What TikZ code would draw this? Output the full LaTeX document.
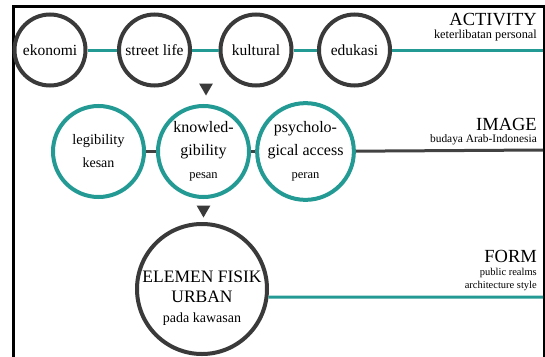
\documentclass[tikz,border=0pt]{standalone}
\usepackage{fontspec}
\setmainfont{Liberation Serif}
\usetikzlibrary{shapes.geometric}
\definecolor{tealc}{RGB}{36,154,149}
\definecolor{ringgray}{RGB}{58,58,58}
\definecolor{linegray}{RGB}{66,66,66}
\tikzset{
  actcirc/.style={circle, draw=ringgray, line width=4pt, minimum size=71pt, inner sep=0pt,
    font=\fontsize{15.5}{18}\selectfont},
  imgcirc/.style={circle, draw=tealc, line width=4pt, minimum size=91pt, inner sep=0pt,
    align=center, font=\fontsize{16}{23}\selectfont},
  formcirc/.style={circle, draw=ringgray, line width=4pt, minimum size=130pt, inner sep=0pt},
  tealline/.style={draw=tealc, line width=3pt},
  grayline/.style={draw=linegray, line width=3pt},
  downtri/.style={regular polygon, regular polygon sides=3, shape border rotate=180,
    fill=ringgray, draw=none, minimum size=16pt, inner sep=0pt},
  headtxt/.style={anchor=base east, inner sep=0pt, font=\fontsize{18.5}{20}\selectfont},
  subtxt/.style={anchor=base east, inner sep=0pt},
}
\begin{document}
\begin{tikzpicture}[x=1pt,y=-1pt]
\useasboundingbox (0,0) rectangle (545,356);
% frame
\draw[line width=3pt] (13.5,360) -- (13.5,6.5) -- (544,6.5) -- (544,360);

% ACTIVITY row
\node[actcirc] (eko) at (50,50) {ekonomi};
\node[actcirc] (str) at (154.5,50) {street life};
\node[actcirc] (kul) at (256,50) {kultural};
\node[actcirc] (edu) at (354.5,50) {edukasi};
\coordinate (actend) at (543,50);
\draw[tealline] (eko) -- (str);
\draw[tealline] (str) -- (kul);
\draw[tealline] (kul) -- (edu);
\draw[tealline] (edu) -- (actend);
\node[headtxt] (act) at (537,25) {ACTIVITY};
\node[subtxt, font=\fontsize{12.3}{13}\selectfont] (actsub) at (537,38) {keterlibatan personal};

\node[downtri] (tri1) at (206,87.5) {};

% IMAGE row
\node[imgcirc] (leg) at (98.5,151.5) {{\fontsize{14.5}{20}\selectfont legibility}\\{\fontsize{14}{20}\selectfont kesan}};
\node[imgcirc] (kno) at (203.5,151.5) {knowled-\\gibility\\{\fontsize{12.5}{23}\selectfont pesan}};
\node[imgcirc] (psy) at (305.5,151.5) {psycholo-\\gical access\\{\fontsize{12.5}{23}\selectfont peran}};
\coordinate (imgend) at (543,150);
\draw[grayline] (leg) -- (kno);
\draw[grayline] (kno) -- (psy);
\draw[grayline] (psy) -- (imgend);
\node[headtxt] (img) at (537,130) {IMAGE};
\node[subtxt, font=\fontsize{11.4}{12}\selectfont] (imgsub) at (537,142) {budaya Arab-Indonesia};

\node[downtri] (tri2) at (203.5,209.5) {};

% FORM row
\node[formcirc] (form) at (202,289) {};
\node[align=center, inner sep=0pt, font=\fontsize{17.5}{20}\selectfont] (formtxt) at (202,298)
  {ELEMEN FISIK\\URBAN\\{\fontsize{14}{20}\selectfont pada kawasan}};
\coordinate (formend) at (543,297);
\draw[tealline] (form.-7) -- (formend);
\node[headtxt] (frm) at (537,262) {FORM};
\node[subtxt, font=\fontsize{10.5}{13}\selectfont] (frmsub1) at (537,275) {public realms};
\node[subtxt, font=\fontsize{10.5}{13}\selectfont] (frmsub2) at (537,288) {architecture style};
\end{tikzpicture}
\end{document}
